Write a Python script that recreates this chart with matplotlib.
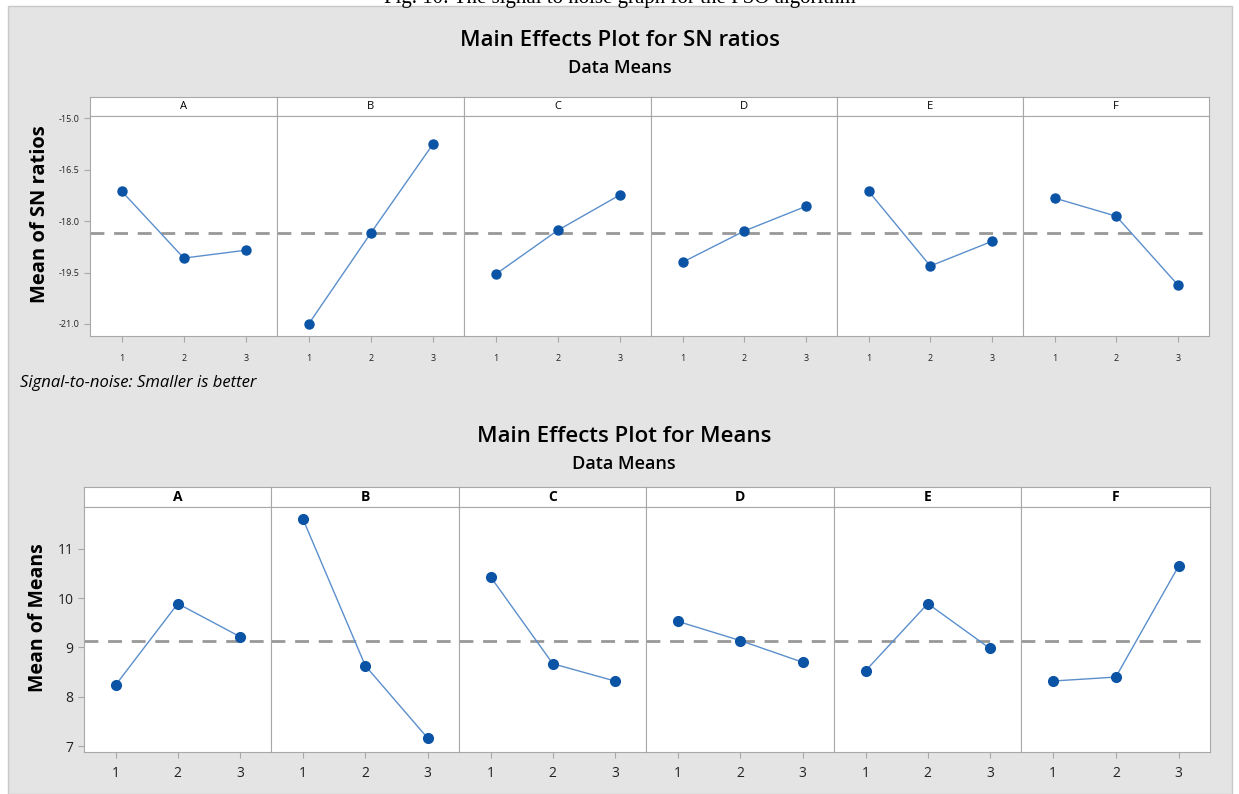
import numpy as np
import matplotlib.pyplot as plt
from matplotlib.patches import Rectangle

plt.rcParams['font.family'] = ['Open Sans', 'DejaVu Sans']
plt.rcParams['axes.unicode_minus'] = False

factors = ['A', 'B', 'C', 'D', 'E', 'F']
levels = [1, 2, 3]

# mean SN ratio per factor level
sn_ratios = [
    [-17.13, -19.08, -18.85],
    [-21.00, -18.35, -15.76],
    [-19.55, -18.27, -17.24],
    [-19.20, -18.29, -17.57],
    [-17.13, -19.31, -18.59],
    [-17.33, -17.86, -19.87],
]
sn_ticks = [-15.0, -16.5, -18.0, -19.5, -21.0]

# mean response per factor level
means = [
    [8.24, 9.89, 9.22],
    [11.61, 8.63, 7.16],
    [10.43, 8.67, 8.32],
    [9.53, 9.14, 8.70],
    [8.53, 9.89, 8.98],
    [8.32, 8.40, 10.65],
]
mean_ticks = [7, 8, 9, 10, 11]

W, H = 1239, 794
BG = '#e4e4e4'
EDGE = '#a8a8a8'
MARK = '#0b53a5'
LINE = '#5b8fcc'


def box(x0, y0, x1, y1):
    return [x0 / W, 1 - y1 / H, (x1 - x0) / W, (y1 - y0) / H]


fig = plt.figure(figsize=(W / 100, H / 100), dpi=100, facecolor='white')

# grey panel behind everything, white band on top with the caption
fig.patches.append(Rectangle((8 / W, 0), (1232 - 8) / W, 1 - 6 / H,
                             transform=fig.transFigure, facecolor=BG,
                             edgecolor='#c8c8c8', lw=1, zorder=-10))
fig.text(0.5, 1 - 3 / H, 'Fig. 10: The signal to noise graph for the PSO algorithm',
         ha='center', va='baseline', fontsize=15, family='Liberation Serif')


def panel_row(edges, top, strip_bot, bot, data, ylim, yticks, yfmt,
              tick_fs, strip_fs, strip_bold, ms, pad):
    grand = np.mean(data)
    for i, f in enumerate(factors):
        x0, x1 = edges[i], edges[i + 1]
        sax = fig.add_axes(box(x0, top, x1, strip_bot))
        sax.set_facecolor('white')
        sax.set_xticks([])
        sax.set_yticks([])
        for s in sax.spines.values():
            s.set_color(EDGE)
        sax.text(0.5, 0.5, f, ha='center', va='center', fontsize=strip_fs,
                 fontweight='bold' if strip_bold else 'normal',
                 transform=sax.transAxes)

        ax = fig.add_axes(box(x0, strip_bot, x1, bot))
        ax.set_facecolor('white')
        for s in ax.spines.values():
            s.set_color(EDGE)
        ax.axhline(grand, color='#989898', lw=2, dashes=(5, 3.5), zorder=1)
        ax.plot(levels, data[i], color=LINE, lw=1, zorder=2)
        ax.plot(levels, data[i], 'o', color=MARK, ms=ms, zorder=3)
        ax.set_xlim(0.49, 3.5)
        ax.set_ylim(*ylim)
        ax.set_xticks(levels)
        ax.tick_params(axis='x', length=4, color=EDGE, labelsize=tick_fs,
                       pad=pad, labelcolor='#222222')
        if i == 0:
            ax.set_yticks(yticks)
            ax.set_yticklabels([yfmt % v for v in yticks])
            ax.tick_params(axis='y', length=4, color=EDGE, labelsize=tick_fs,
                           labelcolor='#222222')
        else:
            ax.set_yticks([])


# SN ratios
panel_row([90, 277, 464, 651, 837, 1023, 1209], 97, 116, 336, sn_ratios,
          (-21.35, -14.94), sn_ticks, '%.1f', 6.5, 8, False, 6.5, 9)
fig.text(620 / W, 1 - 40 / H, 'Main Effects Plot for SN ratios', ha='center',
         va='center', fontsize=16, fontweight='semibold')
fig.text(620 / W, 1 - 68 / H, 'Data Means', ha='center', va='center',
         fontsize=13, fontweight='semibold')
fig.text(40 / W, 1 - 214 / H, 'Mean of SN ratios', ha='center', va='center',
         rotation=90, fontsize=14.5, fontweight='bold')
fig.text(20 / W, 1 - 383 / H, 'Signal-to-noise: Smaller is better', ha='left',
         va='center', fontsize=12, style='italic')

# Means
panel_row([84, 271, 459, 646, 834, 1021, 1210], 487, 507, 752, means,
          (6.88, 11.85), mean_ticks, '%d', 10, 10, True, 7, 6)
fig.text(624 / W, 1 - 436 / H, 'Main Effects Plot for Means', ha='center',
         va='center', fontsize=16, fontweight='semibold')
fig.text(624 / W, 1 - 464 / H, 'Data Means', ha='center', va='center',
         fontsize=13, fontweight='semibold')
fig.text(38 / W, 1 - 618 / H, 'Mean of Means', ha='center', va='center',
         rotation=90, fontsize=14, fontweight='bold')

fig.savefig('out.png', dpi=100, facecolor='white')
